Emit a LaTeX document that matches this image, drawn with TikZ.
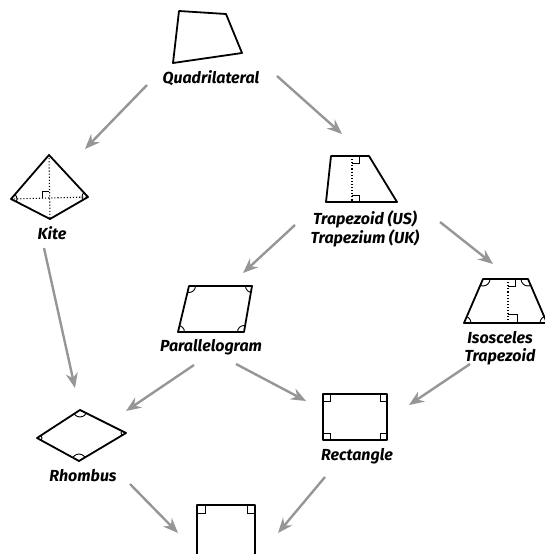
\documentclass[tikz,border=0pt]{standalone}
\usepackage{fontspec}
\setmainfont{Fira Sans}
\usetikzlibrary{arrows.meta}
\definecolor{arrowgray}{RGB}{150,150,150}
\tikzset{
  shapeline/.style={line width=1.8pt, line join=round},
  thinmark/.style={line width=0.9pt},
  dotline/.style={line width=1.1pt, dotted},
  lbl/.style={font=\bfseries\itshape\fontsize{16}{18.5}\selectfont, align=center, inner sep=0pt},
  flow/.style={arrowgray, line width=2.4pt, -{Stealth[length=15pt,width=12pt,inset=5pt]}, shorten >=0pt}
}
\begin{document}
\begin{tikzpicture}[x=1pt,y=-1pt]
\useasboundingbox (0,0) rectangle (545,554);

% Quadrilateral
\draw[shapeline] (179,11) -- (226,14) -- (242,53) -- (173,63) -- cycle;
\node[lbl] (quad) at (211,78) {Quadrilateral};

% Kite
\draw[shapeline] (49,155) -- (88,197) -- (50,219) -- (11,199) -- cycle;
\draw[dotline] (49,155) -- (50,219);
\draw[dotline] (11,199) -- (88,197);
\draw[thinmark] (42,198) -- (42,191) -- (49,191);
\begin{scope}
  \clip (49,155) -- (88,197) -- (50,219) -- (11,199) -- cycle;
  \draw[thinmark] (88,197) circle (6);
  \draw[thinmark] (11,199) circle (6);
\end{scope}
\node[lbl] (kite) at (52,233) {Kite};

% Trapezoid
\draw[shapeline] (331,156) -- (369,156) -- (397,202) -- (326,202) -- cycle;
\draw[dotline] (352,156) -- (352,202);
\draw[thinmark] (352,163) -- (359,163) -- (359,156);
\draw[thinmark] (352,195) -- (359,195) -- (359,202);
\node[lbl] (trap) at (365,229) {Trapezoid (US)\\Trapezium (UK)};

% Parallelogram
\draw[shapeline] (189,286) -- (252,286) -- (244,332) -- (178,332) -- cycle;
\begin{scope}
  \clip (189,286) -- (252,286) -- (244,332) -- (178,332) -- cycle;
  \foreach \p in {(189,286),(252,286),(244,332),(178,332)}
    \draw[thinmark] \p circle (6.5);
\end{scope}
\node[lbl] (para) at (211,347) {Parallelogram};

% Isosceles trapezoid
\draw[shapeline] (483,279) -- (528,279) -- (547,323) -- (464,323) -- cycle;
\draw[dotline] (508,279) -- (508,323);
\draw[thinmark] (508,286) -- (515,286) -- (515,279);
\draw[thinmark] (508,314) -- (517,314) -- (517,323);
\begin{scope}
  \clip (483,279) -- (528,279) -- (547,323) -- (464,323) -- cycle;
  \foreach \p in {(483,279),(528,279),(547,323),(464,323)}
    \draw[thinmark] \p circle (7);
\end{scope}
\node[lbl] (isos) at (500,348) {Isosceles\\Trapezoid};

% Rhombus
\draw[shapeline] (80,410) -- (126,433) -- (79,461) -- (37,438) -- cycle;
\begin{scope}
  \clip (80,410) -- (126,433) -- (79,461) -- (37,438) -- cycle;
  \draw[thinmark] (80,410) circle (7);
  \draw[thinmark] (79,461) circle (7);
  \draw[thinmark] (126,433) circle (5);
  \draw[thinmark] (37,438) circle (5);
\end{scope}
\node[lbl] (rhomb) at (83,476) {Rhombus};

% Rectangle
\draw[shapeline] (323,394) rectangle (387,440);
\draw[thinmark] (323,401) -- (330,401) -- (330,394);
\draw[thinmark] (380,394) -- (380,401) -- (387,401);
\draw[thinmark] (323,433) -- (330,433) -- (330,440);
\draw[thinmark] (380,440) -- (380,433) -- (387,433);
\node[lbl] (rect) at (357,456) {Rectangle};

% Square (cut off at bottom)
\draw[shapeline] (197,570) -- (197,505) -- (255,505) -- (255,570);
\draw[thinmark] (197,513) -- (205,513) -- (205,505);
\draw[thinmark] (247,505) -- (247,513) -- (255,513);

% Arrow end points
\coordinate (a1s) at (147,85);  \coordinate (a1e) at (85,149);
\coordinate (a2s) at (277,76);  \coordinate (a2e) at (342,134);
\coordinate (a3s) at (295,225); \coordinate (a3e) at (243,273);
\coordinate (a4s) at (440,222); \coordinate (a4e) at (493,264);
\coordinate (a5s) at (44,248);  \coordinate (a5e) at (75,388);
\coordinate (a6s) at (194,365); \coordinate (a6e) at (126,411);
\coordinate (a7s) at (236,364); \coordinate (a7e) at (306,401);
\coordinate (a8s) at (470,364); \coordinate (a8e) at (409,405);
\coordinate (a9s) at (130,484); \coordinate (a9e) at (178,533);
\coordinate (a10s) at (325,477); \coordinate (a10e) at (278,533);

\foreach \i in {1,...,10}
  \draw[flow] (a\i s) -- (a\i e);
\end{tikzpicture}
\end{document}
